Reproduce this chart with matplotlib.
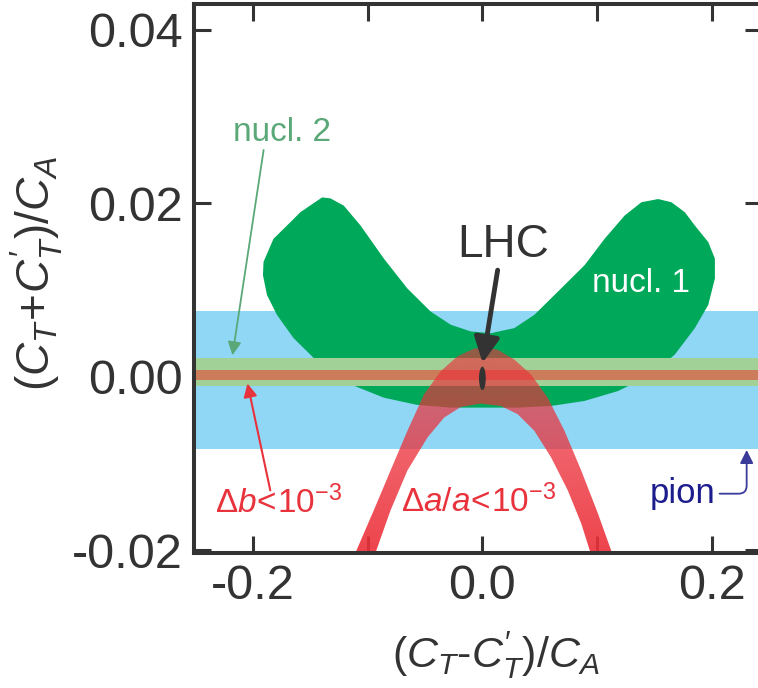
import matplotlib
matplotlib.use('Agg')
import numpy as np
import matplotlib.pyplot as plt
from matplotlib.patches import Polygon, Ellipse

plt.rcParams['font.family'] = ['Liberation Sans', 'DejaVu Sans']
plt.rcParams['mathtext.fontset'] = 'custom'
plt.rcParams['mathtext.rm'] = 'Liberation Sans'
plt.rcParams['mathtext.it'] = 'Liberation Sans:italic'
plt.rcParams['mathtext.default'] = 'it'

# bands (y limits)
pion_band = (-0.00833, 0.00761)
nucl2_band = (-0.00109, 0.00212)
db_band = (-0.00040, 0.00071)

# nucl. 1 region outline
nucl1_x = [-0.1398, -0.1588, -0.1675, -0.1822, -0.1909, -0.1914, -0.1879, -0.1792,
           -0.1647, -0.1442, -0.1150, -0.0859, -0.0567, -0.0276, 0.0016, 0.0308,
           0.0599, 0.0891, 0.1183, 0.1474, 0.1678, 0.1853, 0.1970, 0.2028,
           0.2028, 0.1970, 0.1853, 0.1766, 0.1649, 0.1533, 0.1387, 0.1241,
           0.1066, 0.0891, 0.0658, 0.0453, 0.0278, 0.0074, -0.0101, -0.0276,
           -0.0451, -0.0655, -0.0859, -0.1063, -0.1209, -0.1326]
nucl1_y = [0.02066, 0.01895, 0.01780, 0.01589, 0.01323, 0.01170, 0.00941, 0.00712,
           0.00444, 0.00177, -0.00089, -0.00243, -0.00326, -0.00357, -0.00357, -0.00357,
           -0.00338, -0.00280, -0.00166, 0.00025, 0.00254, 0.00559, 0.00827, 0.01131,
           0.01360, 0.01551, 0.01742, 0.01895, 0.02010, 0.02047, 0.02010, 0.01857,
           0.01589, 0.01284, 0.00979, 0.00712, 0.00559, 0.00501, 0.00521, 0.00598,
           0.00750, 0.01017, 0.01360, 0.01742, 0.01971, 0.02055]

# Delta a / a band: outer and inner edges
da_outer_x = [-0.115, -0.1107, -0.0947, -0.0801, -0.0654, -0.0509, -0.0363, -0.0217,
              -0.0072, 0.0016, 0.0133, 0.0278, 0.0424, 0.0570, 0.0716, 0.0862,
              0.1008, 0.1130, 0.117]
da_outer_y = [-0.0215, -0.02029, -0.01540, -0.01082, -0.00624, -0.00204, 0.00063, 0.00235,
              0.00323, 0.00338, 0.00311, 0.00197, 0.00025, -0.00243, -0.00624, -0.01082,
              -0.01578, -0.02029, -0.0215]
da_inner_x = [-0.097, -0.0932, -0.0801, -0.0654, -0.0479, -0.0334, -0.0188, -0.0013,
              0.0162, 0.0308, 0.0453, 0.0599, 0.0745, 0.0862, 0.0943, 0.0975]
da_inner_y = [-0.0215, -0.02029, -0.01540, -0.01082, -0.00701, -0.00472, -0.00349, -0.00311,
              -0.00338, -0.00433, -0.00624, -0.00930, -0.01311, -0.01692, -0.02029, -0.0215]

lhc_x, lhc_y = 0.0, -0.0002
lhc_w, lhc_h = 0.0059, 0.0027

x_ticks = [-0.2, -0.1, 0.0, 0.1, 0.2]
x_ticklabels = ['-0.2', '', '0.0', '', '0.2']
y_ticks = [-0.02, 0.0, 0.02, 0.04]
y_ticklabels = ['-0.02', '0.00', '0.02', '0.04']

fig = plt.figure(figsize=(7.58, 6.88), dpi=100)
ax = fig.add_axes([0.256, 0.1958, 0.749, 0.7984])

ax.axhspan(*pion_band, color='#8fd7f5', lw=0, zorder=1)
ax.add_patch(Polygon(list(zip(nucl1_x, nucl1_y)), closed=True, fc='#00a85a', ec='none', zorder=2))
ax.axhspan(*nucl2_band, color='#a1d196', lw=0, zorder=3)
ax.axhspan(*db_band, color='#cc7c5a', lw=0, zorder=3)

# red band, drawn as a vertical gradient clipped to the band outline
band = list(zip(da_outer_x, da_outer_y)) + list(zip(da_inner_x[::-1], da_inner_y[::-1]))
band_patch = Polygon(band, closed=True, fc='none', ec='none', zorder=4)
ax.add_patch(band_patch)
grad = np.zeros((100, 1, 4))
grad[..., 0] = 236 / 255
grad[..., 1] = 48 / 255
grad[..., 2] = 58 / 255
grad[:, 0, 3] = np.linspace(0.62, 0.92, 100)
img = ax.imshow(grad, extent=(min(da_outer_x), max(da_outer_x), min(da_outer_y), max(da_outer_y)),
                origin='upper', aspect='auto', interpolation='bilinear', zorder=4)
img.set_clip_path(band_patch)

ax.add_patch(Ellipse((lhc_x, lhc_y), lhc_w, lhc_h, fc='#333333', ec='none', zorder=6))

# labels and arrows
ax.text(0.0184, 0.0138, 'LHC', fontsize=33, color='#333333', ha='center', va='baseline', zorder=7)
ax.annotate('', xy=(0.0002, 0.00158), xytext=(0.0133, 0.01227),
            arrowprops=dict(arrowstyle='-|>', color='#333333', lw=3.5, mutation_scale=38,
                            shrinkA=0, shrinkB=0), zorder=7)

ax.text(0.1387, 0.00979, 'nucl. 1', fontsize=24, color='white', ha='center', va='baseline', zorder=7)

ax.text(-0.1745, 0.02716, 'nucl. 2', fontsize=24, color='#5aa878', ha='center', va='baseline', zorder=7)
ax.annotate('', xy=(-0.2180, 0.00246), xytext=(-0.1908, 0.02612),
            arrowprops=dict(arrowstyle='-|>', color='#5aa878', lw=1.3, mutation_scale=20,
                            shrinkA=0, shrinkB=0), zorder=7)

ax.text(-0.2332, -0.01571, r'$\Delta b\!<\!10^{-3}$', fontsize=24, color='#e8323c',
        ha='left', va='baseline', zorder=7)
ax.annotate('', xy=(-0.2049, -0.00078), xytext=(-0.1850, -0.01311),
            arrowprops=dict(arrowstyle='-|>', color='#e8323c', lw=1.5, mutation_scale=20,
                            shrinkA=0, shrinkB=0), zorder=7)

ax.text(-0.0713, -0.01559, r'$\Delta a/a\!<\!10^{-3}$', fontsize=24, color='#e8323c',
        ha='left', va='baseline', zorder=7)

ax.text(0.175, -0.0146, 'pion', fontsize=25, color='#1c1c8c', ha='center', va='baseline', zorder=7)
ax.annotate('', xy=(0.2305, -0.00845), xytext=(0.2069, -0.01349),
            arrowprops=dict(arrowstyle='-|>', color='#3a3a9a', lw=1.3, mutation_scale=20,
                            shrinkA=0, shrinkB=0,
                            connectionstyle='angle,angleA=0,angleB=90,rad=8'), zorder=7)

ax.set_xlim(-0.2515, 0.2437)
ax.set_ylim(-0.02036, 0.04295)

ax.set_xticks(x_ticks)
ax.set_xticklabels(x_ticklabels)
ax.set_yticks(y_ticks)
ax.set_yticklabels(y_ticklabels)
ax.tick_params(direction='in', length=12, width=2.2, color='#333333', labelcolor='#333333',
               labelsize=35, pad=8, top=True, right=True)
for s in ax.spines.values():
    s.set_linewidth(2.9)
    s.set_color('#333333')
    s.set_zorder(8)

ax.set_xlabel(r"$(C_T$-$C^{\prime}_T)/C_A$", fontsize=31, color='#333333')
ax.xaxis.set_label_coords(0.532, -0.138)
ax.set_ylabel(r"$(C_T\!+\!C^{\prime}_T)/C_A$", fontsize=33, color='#333333')
ax.yaxis.set_label_coords(-0.228, 0.51)

fig.savefig('out.png', dpi=100)
